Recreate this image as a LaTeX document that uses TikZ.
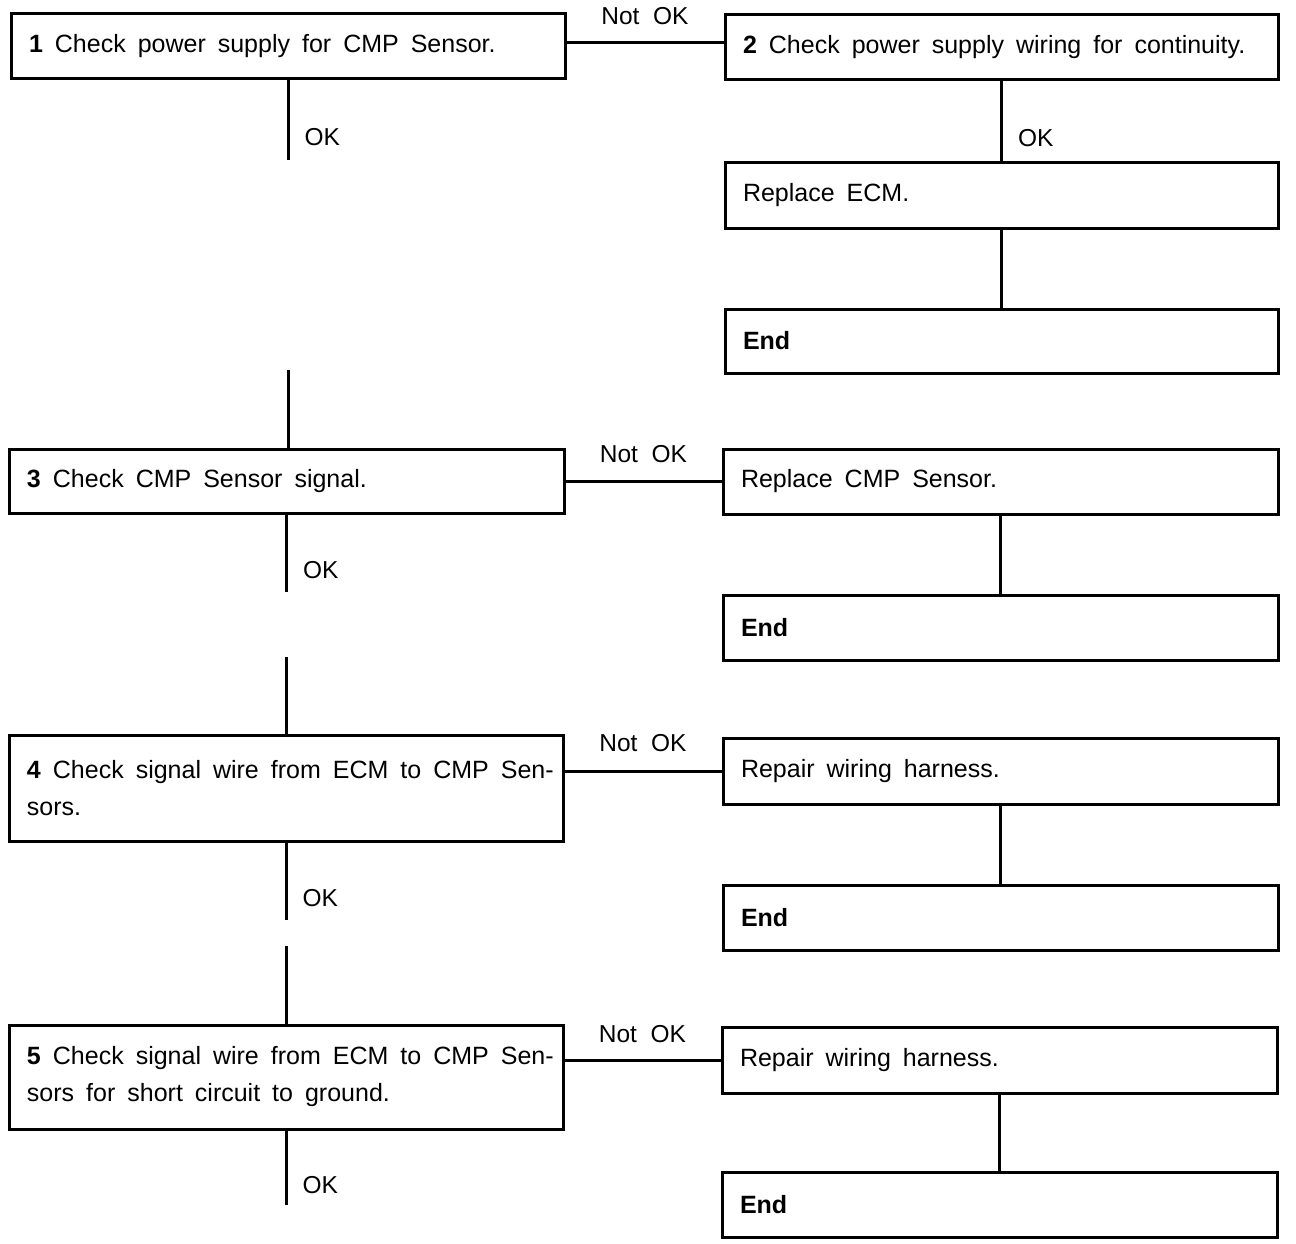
\documentclass[tikz,border=0pt]{standalone}
\usepackage{fontspec}
\setmainfont{Liberation Sans}[WordSpace=2]
\newcommand\wordgap{\spaceskip=12pt plus 2pt minus 1pt\relax}
\begin{document}
\begin{tikzpicture}[x=1pt,y=-1pt,
  box/.style={draw, line width=3pt, outer sep=0pt, anchor=north west, inner xsep=18pt, inner ysep=0pt,
              align=left, font=\fontsize{25}{37}\selectfont, execute at begin node=\wordgap},
  conn/.style={line width=3pt},
  lbl/.style={font=\fontsize{24.5}{30}\selectfont, inner sep=0pt},
  okl/.style={lbl, anchor=west, xshift=15pt}]
\useasboundingbox (0,0) rectangle (1296,1244);
% left column
\node[box, minimum width=554, minimum height=65, text width=518] (b1) at (11,14) {\textbf{1} Check power supply for CMP Sensor.};
\node[box, minimum width=555, minimum height=64, text width=519] (b3) at (9,449) {\textbf{3} Check CMP Sensor signal.};
\node[box, minimum width=554, minimum height=106, text width=518] (b4) at (9,735) {\mbox{\textbf{4} Check signal wire from ECM to CMP Sen-}\\sors.};
\node[box, minimum width=554, minimum height=104, text width=518] (b5) at (9,1025) {\mbox{\textbf{5} Check signal wire from ECM to CMP Sen-}\\sors for short circuit to ground.};
% right column
\node[box, minimum width=553, minimum height=65, text width=517] (b2) at (725,15) {\textbf{2} Check power supply wiring for continuity.};
\node[box, minimum width=553, minimum height=65, text width=517] (r1) at (725,163) {Replace ECM.};
\node[box, minimum width=553, minimum height=64, text width=517] (e1) at (725,309) {\textbf{End}};
\node[box, minimum width=555, minimum height=65, text width=519] (r3) at (723,449) {Replace CMP Sensor.};
\node[box, minimum width=555, minimum height=65, text width=519] (e3) at (723,595) {\textbf{End}};
\node[box, minimum width=555, minimum height=66, text width=519] (r4) at (723,738) {Repair wiring harness.};
\node[box, minimum width=555, minimum height=65, text width=519] (e4) at (723,885) {\textbf{End}};
\node[box, minimum width=555, minimum height=66, text width=519] (r5) at (722,1027) {Repair wiring harness.};
\node[box, minimum width=555, minimum height=65, text width=519] (e5) at (722,1172) {\textbf{End}};
% free ends
\coordinate (c1) at (288,160);
\coordinate (c2) at (288,370);
\coordinate (c3) at (288,592);
\coordinate (c4) at (286,657);
\coordinate (c5) at (286,920);
\coordinate (c6) at (286,946);
\coordinate (c7) at (286,1205);
% vertical connectors
\draw[conn] (b1.south) -- (c1) node[okl, pos=0.72] {OK};
\draw[conn] (b2.south) -- (r1.north -| b2.south) node[okl, pos=0.70] {OK};
\draw[conn] (r1.south) -- (e1.north);
\draw[conn] (c2) -- (b3.north -| c2);
\draw[conn] (b3.south) -- (b3.south |- c3) node[okl, pos=0.72] {OK};
\draw[conn] (r3.south) -- (e3.north);
\draw[conn] (c4) -- (b4.north -| c4);
\draw[conn] (b4.south) -- (c5) node[okl, pos=0.72] {OK};
\draw[conn] (r4.south) -- (e4.north);
\draw[conn] (c6) -- (b5.north -| c6);
\draw[conn] (b5.south) -- (c7) node[okl, pos=0.74] {OK};
\draw[conn] (r5.south) -- (e5.north);
% horizontal connectors
\draw[conn] ([yshift=4.5pt]b2.west -| b1.east) -- ([yshift=4.5pt]b2.west) node[lbl, midway, yshift=27pt] {Not OK};
\draw[conn] (r3.west -| b3.east) -- (r3.west) node[lbl, midway, yshift=27pt] {Not OK};
\draw[conn] (r4.west -| b4.east) -- (r4.west) node[lbl, midway, yshift=28pt] {Not OK};
\draw[conn] (r5.west -| b5.east) -- (r5.west) node[lbl, midway, yshift=26pt] {Not OK};
\end{tikzpicture}
\end{document}
